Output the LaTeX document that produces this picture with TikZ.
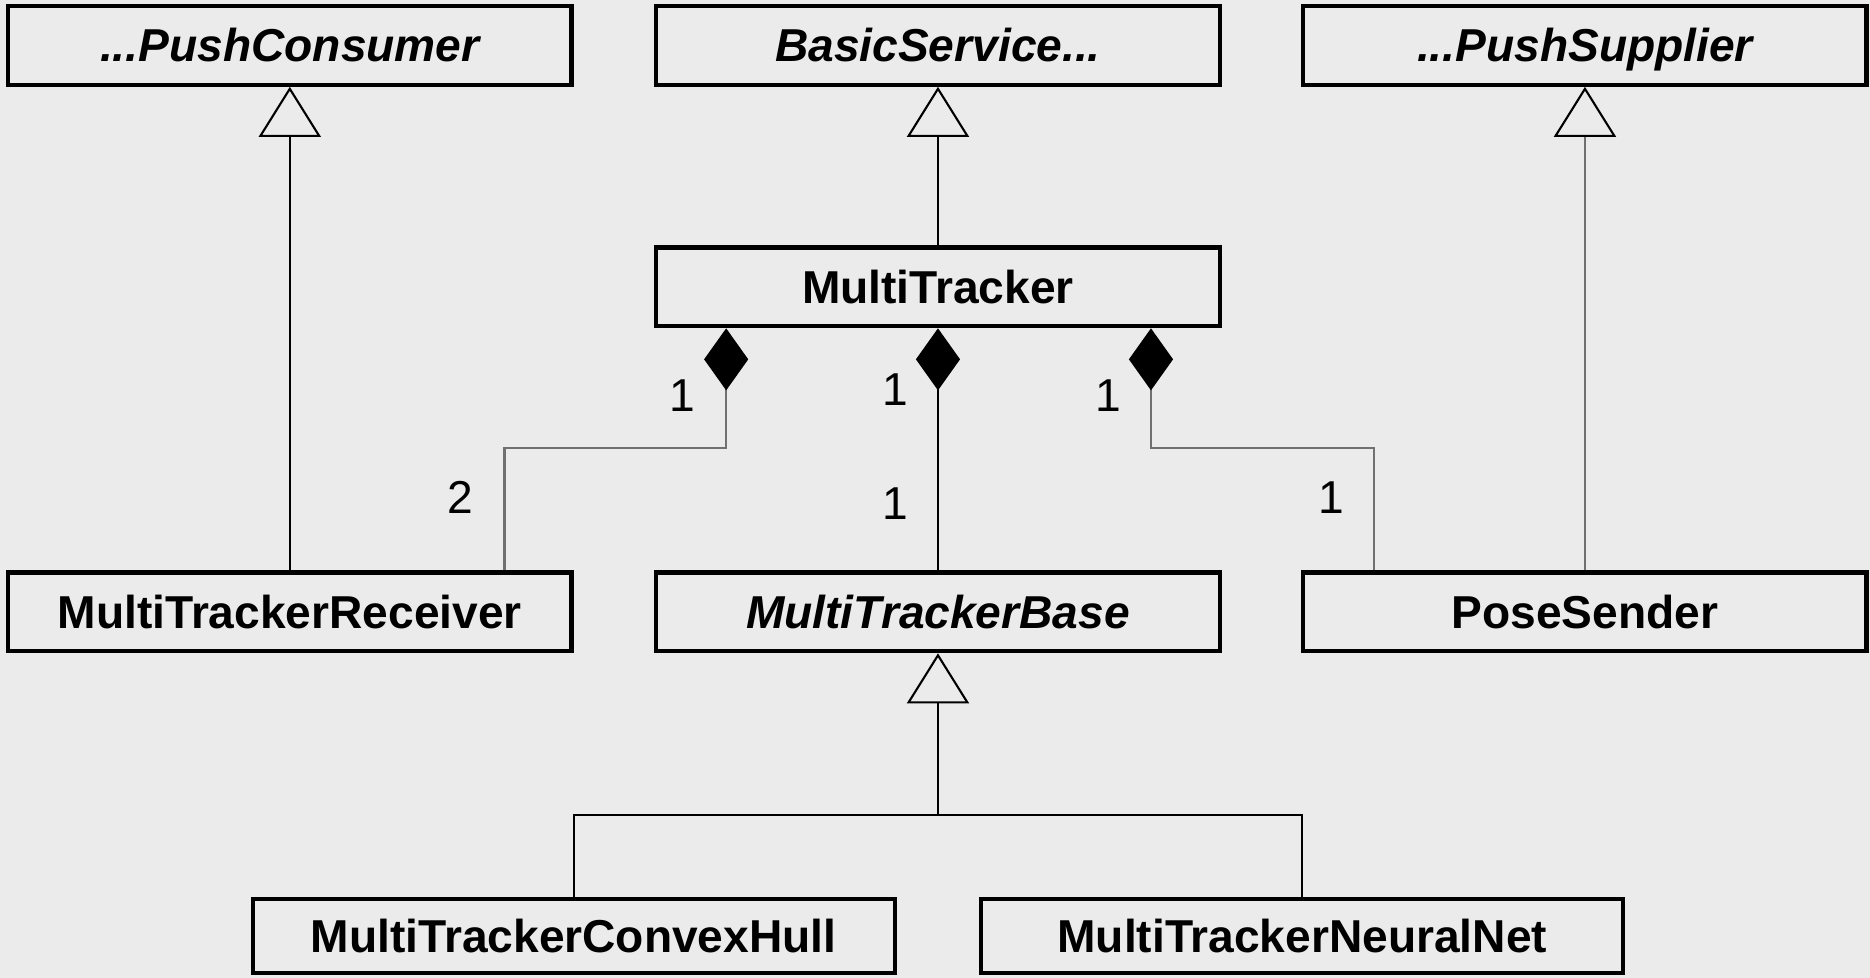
\documentclass[tikz,border=0pt]{standalone}
\usepackage{fontspec}
\setmainfont{Liberation Sans}
\usepackage{tikz}
\usetikzlibrary{arrows.meta,shadows}
\definecolor{bg}{HTML}{EBEBEB}
\definecolor{wire}{HTML}{707070}
\tikzstyle{cls} = [draw, line width=1pt, fill=bg, minimum width=4.72cm, minimum height=0.66cm, inner sep=0pt, text height=9.5pt, text depth=1.6pt, font=\fontsize{11}{13}\selectfont\bfseries, drop shadow={shadow xshift=0.5pt, shadow yshift=-0.5pt, fill=black!40, opacity=1}]
\tikzstyle{abstr} = [cls, font=\fontsize{11}{13}\selectfont\bfseries\itshape]
\tikzstyle{inherit} = [draw, line width=0.5pt, -{Triangle[width=5.2mm, length=4.2mm, fill=bg, color=black]}]
\tikzstyle{compo} = [draw, line width=0.5pt, {Diamond[width=3.7mm, length=5.2mm, color=black]}-]
\tikzstyle{mult} = [font=\fontsize{11}{13}\selectfont, inner sep=0pt]

\begin{document}
\begin{tikzpicture}[x=0.01cm, y=-0.01cm]

	\fill[bg] (0,0) rectangle (1568,820);
	\useasboundingbox (0,0) rectangle (1568,820);

	% nodes
	\node[abstr] (pcons) at (243, 38) {...PushConsumer};
	\node[abstr] (basic) at (786.5, 38) {BasicService...};
	\node[abstr] (psupp) at (1329, 38) {...PushSupplier};
	\node[cls] (tracker) at (786.5, 240.5) {MultiTracker};
	\node[cls] (recv) at (243, 513) {MultiTrackerReceiver};
	\node[abstr] (base) at (786.5, 513) {MultiTrackerBase};
	\node[cls] (sender) at (1329, 513) {PoseSender};
	\node[cls, minimum width=5.38cm, minimum height=0.62cm] (hull) at (481, 785) {MultiTrackerConvexHull};
	\node[cls, minimum width=5.38cm, minimum height=0.62cm] (neural) at (1092, 785) {MultiTrackerNeuralNet};

	\coordinate (bus) at (786.5, 683);
	\coordinate (kl) at (423, 376);
	\coordinate (kr) at (1152, 376);

	% multiplicities
	\node[mult] (m1) at (572, 332) {1};
	\node[mult] (m2) at (386, 417) {2};
	\node[mult] (m3) at (751, 327) {1};
	\node[mult] (m4) at (751, 422) {1};
	\node[mult] (m5) at (929, 332) {1};
	\node[mult] (m6) at (1116, 417) {1};

	% arrows
	\draw[inherit] (recv) -- (pcons);
	\draw[inherit] (tracker) -- (basic);
	\draw[inherit, wire] (sender) -- (psupp);
	\draw[inherit] (bus) -- (base);
	\draw[line width=0.5pt] (hull) |- (bus) -| (neural);
	\draw[compo] (tracker) -- (base);
	\draw[compo, wire] ([xshift=-1.775cm]tracker.south) |- (kl) -- (kl |- recv.north);
	\draw[compo, wire] ([xshift=1.785cm]tracker.south) |- (kr) -- (kr |- sender.north);

\end{tikzpicture}
\end{document}
